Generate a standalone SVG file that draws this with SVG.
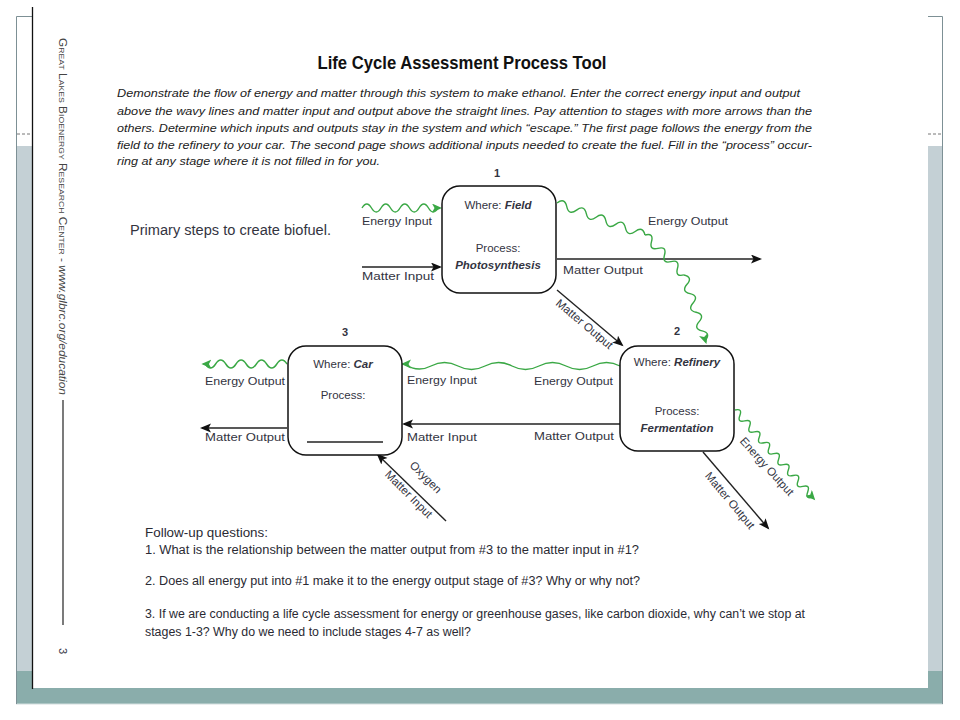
<svg xmlns="http://www.w3.org/2000/svg" width="960" height="720" viewBox="0 0 960 720" xml:space="preserve">
<defs>
<style>
text{font-family:"Liberation Sans",Arial,sans-serif;fill:#33343f}
.lbl{font-size:11.5px}
.para{font-size:11.5px;font-style:italic;fill:#222}
.q{font-size:12px;fill:#2a2a33}
.bi{font-weight:bold;font-style:italic}
.box{fill:#fff;stroke:#111;stroke-width:1.5}
.wave{fill:none;stroke:#3aa845;stroke-width:1.4}
.mline{fill:none;stroke:#222;stroke-width:1.4}
.frame{stroke:#7d9095;stroke-width:1;fill:none}
</style>
<marker id="ga" markerWidth="11" markerHeight="10" refX="8" refY="4.5" orient="auto" markerUnits="userSpaceOnUse"><path d="M0,0 L10,4.5 L0,9 L2.5,4.5 z" fill="#3aa845"/></marker>
<marker id="ba" markerWidth="12" markerHeight="10" refX="9" refY="4.5" orient="auto" markerUnits="userSpaceOnUse"><path d="M0,0 L11,4.5 L0,9 L2.5,4.5 z" fill="#111"/></marker>
</defs>

<!-- slide frame -->
<rect x="16" y="146" width="17" height="525" fill="#c4d0d5"/>
<rect x="927" y="146" width="16" height="525" fill="#c4d0d5"/>
<rect x="16" y="671" width="927" height="33" fill="#8aadab"/>
<line x1="16" y1="704" x2="943" y2="704" stroke="#d3dede" stroke-width="1"/>
<rect x="33" y="0" width="895" height="688" fill="#fff"/>
<path class="frame" d="M16.5,704 V16.5 H32 M928,16.5 H942.5 V704"/>
<path d="M17,134 H32 M928,134 H942" stroke="#777" stroke-width="1" stroke-dasharray="3,2"/>
<line x1="32.5" y1="7" x2="32.5" y2="689" stroke="#111" stroke-width="1.3"/>

<!-- side text -->
<g transform="translate(59,38) rotate(90)">
<text x="0" y="0" style="font-size:11px;fill:#444" textLength="357" lengthAdjust="spacingAndGlyphs"><tspan style="font-variant:small-caps">Great Lakes Bioenergy Research Center</tspan> - <tspan font-style="italic">www.glbrc.org/education</tspan></text>
</g>
<line x1="63" y1="400" x2="63" y2="625" stroke="#222" stroke-width="1.2"/>
<text transform="translate(59,648) rotate(90)" style="font-size:11px">3</text>

<!-- title & intro -->
<text x="462" y="69" text-anchor="middle" style="font-size:18px;font-weight:bold;fill:#111" textLength="289" lengthAdjust="spacingAndGlyphs">Life Cycle Assessment Process Tool</text>
<text class="para" x="117" y="97" textLength="683" lengthAdjust="spacingAndGlyphs">Demonstrate the flow of energy and matter through this system to make ethanol.  Enter the correct energy input and output</text>
<text class="para" x="117" y="115" textLength="695" lengthAdjust="spacingAndGlyphs">above the wavy lines and matter input and output above the straight lines.  Pay attention to stages with more arrows than the</text>
<text class="para" x="117" y="132" textLength="695" lengthAdjust="spacingAndGlyphs">others.  Determine which inputs and outputs stay in the system and which “escape.”  The first page follows the energy from the</text>
<text class="para" x="117" y="149" textLength="695" lengthAdjust="spacingAndGlyphs">field to the refinery to your car.  The second page shows additional inputs needed to create the fuel.  Fill in the “process” occur-</text>
<text class="para" x="117" y="165" textLength="263" lengthAdjust="spacingAndGlyphs">ring at any stage where it is not filled in for you.</text>

<text x="130" y="235" style="font-size:14px" textLength="201" lengthAdjust="spacingAndGlyphs">Primary steps to create biofuel.</text>

<!-- connectors -->
<g id="connectors">
<path class="wave" marker-end="url(#ga)" d="M362,208 q4.75,-8 9.5,0 t9.5,0 t9.5,0 t9.5,0 t9.5,0 t9.5,0 t9.5,0 t9.5,0 l2,0"/>
<path class="mline" marker-end="url(#ba)" d="M362,267 H440"/>
<path class="mline" marker-end="url(#ba)" d="M557,259 H760"/>
<path class="wave" transform="translate(557,203) rotate(20)" d="M0,0 q5.2,-8 10.4,0 t10.4,0 t10.4,0 t10.4,0 t10.4,0 t10.4,0 t10.4,0 t10.4,0 t10.4,0"/>
<path class="wave" transform="translate(645,235) rotate(45.7)" d="M0,0 q4.65,-8 9.3,0 t9.3,0 t9.3,0 t9.3,0 t9.3,0 t9.3,0"/>
<path class="wave" marker-end="url(#ga)" transform="translate(684,275) rotate(72)" d="M0,0 q4.9,-8 9.8,0 t9.8,0 t9.8,0 t9.8,0 t9.8,0 t9.8,0 t9.8,0 l2,0"/>
<path class="mline" marker-end="url(#ba)" d="M557,290 L622,345"/>
<path class="wave" marker-end="url(#ga)" d="M620,366 q-13.5,-7 -27,0 t-27,0 t-27,0 t-27,0 t-27,0 t-27,0 t-27,0 t-26,-2 l-2,0"/>
<path class="mline" marker-end="url(#ba)" d="M620,424 H404"/>
<path class="wave" marker-end="url(#ga)" transform="translate(735,410) rotate(48.4)" d="M0,0 q3.65,-7 7.3,0 t7.3,0 t7.3,0 t7.3,0 t7.3,0 t7.3,0 t7.3,0 t7.3,0 t7.3,0 t7.3,0 t7.3,0 t7.3,0 t7.3,0 t7.3,0 t7.3,0 t7.3,0 l2,0"/>
<path class="mline" marker-end="url(#ba)" d="M703,452 L768,528"/>
<path class="wave" marker-end="url(#ga)" d="M287,364 q-5.1,-8 -10.2,0 t-10.2,0 t-10.2,0 t-10.2,0 t-10.2,0 t-10.2,0 t-10.2,0 t-10.2,0 l-2,0"/>
<path class="mline" marker-end="url(#ba)" d="M287,428 H202"/>
<path class="mline" marker-end="url(#ba)" d="M446,521 L378,455"/>
</g>

<!-- connector labels -->
<g id="labels">
<text class="lbl" x="362" y="225" textLength="70" lengthAdjust="spacingAndGlyphs">Energy Input</text>
<text class="lbl" x="362" y="280" textLength="72" lengthAdjust="spacingAndGlyphs">Matter Input</text>
<text class="lbl" x="648" y="225" textLength="80" lengthAdjust="spacingAndGlyphs">Energy Output</text>
<text class="lbl" x="563" y="274" textLength="80" lengthAdjust="spacingAndGlyphs">Matter Output</text>
<text class="lbl" text-anchor="middle" transform="translate(582,327) rotate(40)">Matter Output</text>
<text class="lbl" x="534" y="385" textLength="79" lengthAdjust="spacingAndGlyphs">Energy Output</text>
<text class="lbl" x="534" y="440" textLength="80" lengthAdjust="spacingAndGlyphs">Matter Output</text>
<text class="lbl" x="407" y="384" textLength="70" lengthAdjust="spacingAndGlyphs">Energy Input</text>
<text class="lbl" x="407" y="441" textLength="70" lengthAdjust="spacingAndGlyphs">Matter Input</text>
<text class="lbl" x="205" y="385" textLength="80" lengthAdjust="spacingAndGlyphs">Energy Output</text>
<text class="lbl" x="205" y="441" textLength="80" lengthAdjust="spacingAndGlyphs">Matter Output</text>
<text class="lbl" text-anchor="middle" transform="translate(764,469) rotate(48)">Energy Output</text>
<text class="lbl" text-anchor="middle" transform="translate(727,503) rotate(50)">Matter Output</text>
<text class="lbl" text-anchor="middle" transform="translate(423,480) rotate(45)">Oxygen</text>
<text class="lbl" text-anchor="middle" transform="translate(406,497) rotate(45)">Matter Input</text>
</g>

<!-- nodes -->
<g id="node1">
<text x="497" y="177" text-anchor="middle" style="font-size:11px;font-weight:bold">1</text>
<rect class="box" x="442" y="186" width="114" height="107" rx="18"/>
<text class="lbl" x="498" y="209" text-anchor="middle">Where:  <tspan class="bi">Field</tspan></text>
<text class="lbl" x="498" y="252" text-anchor="middle">Process:</text>
<text class="lbl bi" x="498" y="269" text-anchor="middle">Photosynthesis</text>
</g>
<g id="node2">
<text x="677" y="335" text-anchor="middle" style="font-size:11px;font-weight:bold">2</text>
<rect class="box" x="620" y="346" width="114" height="105" rx="18"/>
<text class="lbl" x="677" y="366" text-anchor="middle">Where: <tspan class="bi">Refinery</tspan></text>
<text class="lbl" x="677" y="415" text-anchor="middle">Process:</text>
<text class="lbl bi" x="677" y="432" text-anchor="middle">Fermentation</text>
</g>
<g id="node3">
<text x="345" y="336" text-anchor="middle" style="font-size:11px;font-weight:bold">3</text>
<rect class="box" x="288" y="346" width="114" height="109" rx="18"/>
<text class="lbl" x="343" y="368" text-anchor="middle">Where:  <tspan class="bi">Car</tspan></text>
<text class="lbl" x="343" y="399" text-anchor="middle">Process:</text>
<line x1="307" y1="442" x2="383" y2="442" stroke="#222" stroke-width="1.3"/>
</g>

<!-- follow-up questions -->
<text class="q" x="145" y="537" textLength="123" lengthAdjust="spacingAndGlyphs">Follow-up questions:</text>
<text class="q" x="145" y="554" textLength="494" lengthAdjust="spacingAndGlyphs">1.  What is the relationship between the matter output from #3 to the matter input in #1?</text>
<text class="q" x="145" y="585" textLength="495" lengthAdjust="spacingAndGlyphs">2.  Does all energy put into #1 make it to the energy output stage of #3?  Why or why not?</text>
<text class="q" x="145" y="618" textLength="660" lengthAdjust="spacingAndGlyphs">3.  If we are conducting a life cycle assessment for energy or greenhouse gases, like carbon dioxide, why can’t we stop at</text>
<text class="q" x="145" y="636" textLength="326" lengthAdjust="spacingAndGlyphs">stages 1-3?  Why do we need to include stages 4-7 as well?</text>
</svg>
